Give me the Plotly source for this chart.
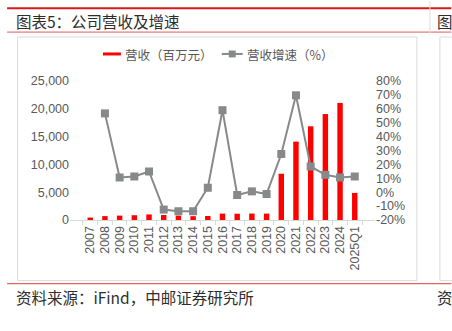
import plotly.graph_objects as go

# Revenue (million CNY) and YoY growth (%)
years = ["2007", "2008", "2009", "2010", "2011", "2012", "2013", "2014", "2015",
         "2016", "2017", "2018", "2019", "2020", "2021", "2022", "2023", "2024", "2025Q1"]
revenue = [440, 700, 790, 860, 1000, 900, 790, 690, 720,
           1150, 1130, 1160, 1150, 8320, 14100, 16850, 19050, 21060, 4870]
growth = [None, 56.7, 10.6, 11.3, 14.9, -12.5, -13.7, -13.7, 3.2,
          59.0, -2.0, 0.6, -1.3, 27.5, 69.7, 18.5, 12.5, 10.6, 11.3]

left_ticks = [0, 5000, 10000, 15000, 20000, 25000]
right_ticks = [-20, -10, 0, 10, 20, 30, 40, 50, 60, 70, 80]
right_labels = [f"{v}%" for v in right_ticks]

W, H = 452, 331
L, R, T, B = 70, 375.5, 80.7, 220.5

RED = "#FF0000"
GRAY = "#87898A"
TXT = "#595959"
NUM_FONT = "Liberation Sans, Arial, sans-serif"
CJK_FONT = "Noto Sans CJK SC, sans-serif"


def px(x):
    return (x - L) / (R - L)


def py(y):
    return (B - y) / (B - T)


fig = go.Figure()
fig.add_trace(go.Bar(
    x=years, y=revenue, name="营收（百万元）",
    marker=dict(color=RED, line=dict(width=0)),
    showlegend=False,
))
fig.add_trace(go.Scatter(
    x=years, y=growth, name="营收增速（%）", yaxis="y2",
    mode="lines+markers",
    line=dict(color=GRAY, width=2),
    marker=dict(symbol="square", size=8, color=GRAY),
    showlegend=False,
))

shapes = []
annotations = []

# page decoration: header rules, frames and footer rule
shapes.append(dict(type="line", xref="paper", yref="paper",
                   x0=px(7), x1=px(452), y0=py(7.5), y1=py(7.5),
                   line=dict(color="#D7191C", width=2)))
shapes.append(dict(type="line", xref="paper", yref="paper",
                   x0=px(7), x1=px(452), y0=py(31.5), y1=py(31.5),
                   line=dict(color="#E05A5A", width=1)))
shapes.append(dict(type="line", xref="paper", yref="paper",
                   x0=px(430.5), x1=px(430.5), y0=py(0), y1=py(33),
                   line=dict(color="#DDDDDD", width=1)))
shapes.append(dict(type="rect", xref="paper", yref="paper",
                   x0=px(17.5), x1=px(417.5), y0=py(36.5), y1=py(281.5),
                   line=dict(color="#DADADA", width=1)))
shapes.append(dict(type="rect", xref="paper", yref="paper",
                   x0=px(440.5), x1=px(460), y0=py(36.5), y1=py(281.5),
                   line=dict(color="#DADADA", width=1)))
shapes.append(dict(type="line", xref="paper", yref="paper",
                   x0=px(7), x1=px(452), y0=py(284.5), y1=py(284.5),
                   line=dict(color="#E06666", width=1.2)))

head_font = dict(family=CJK_FONT, size=15.5, color="#2E2E2E")
annotations.append(dict(text="图表5：公司营收及增速", xref="paper", yref="paper",
                        x=px(14), y=py(20), xanchor="left", yanchor="middle",
                        showarrow=False, font=head_font))
annotations.append(dict(text="图", xref="paper", yref="paper",
                        x=px(436), y=py(20), xanchor="left", yanchor="middle",
                        showarrow=False, font=head_font))
annotations.append(dict(text="资料来源：iFind，中邮证券研究所", xref="paper", yref="paper",
                        x=px(14), y=py(298), xanchor="left", yanchor="middle",
                        showarrow=False, font=head_font))
annotations.append(dict(text="资", xref="paper", yref="paper",
                        x=px(436), y=py(298), xanchor="left", yanchor="middle",
                        showarrow=False, font=head_font))

# legend
legend_font = dict(family=CJK_FONT, size=12.5, color=TXT)
shapes.append(dict(type="line", xref="paper", yref="paper",
                   x0=px(103), x1=px(121), y0=py(53.5), y1=py(53.5),
                   line=dict(color=RED, width=3)))
annotations.append(dict(text="营收（百万元）", xref="paper", yref="paper",
                        x=px(123), y=py(54), xanchor="left", yanchor="middle",
                        showarrow=False, font=legend_font))
shapes.append(dict(type="line", xref="paper", yref="paper",
                   x0=px(222), x1=px(243), y0=py(53.5), y1=py(53.5),
                   line=dict(color=GRAY, width=2)))
shapes.append(dict(type="rect", xref="paper", yref="paper",
                   x0=px(229), x1=px(236), y0=py(50), y1=py(57),
                   line=dict(width=0), fillcolor=GRAY))
annotations.append(dict(text="营收增速（%）", xref="paper", yref="paper",
                        x=px(245), y=py(54), xanchor="left", yanchor="middle",
                        showarrow=False, font=legend_font))

fig.update_layout(
    width=W, height=H,
    margin=dict(l=L, r=W - R, t=T, b=H - B, pad=0),
    paper_bgcolor="white", plot_bgcolor="white",
    bargap=0.63,
    font=dict(family=NUM_FONT, size=12.5, color=TXT),
    xaxis=dict(
        type="category", tickmode="array", tickvals=years, ticktext=years,
        showline=True, linecolor="#D9D9D9", linewidth=1,
        ticks="outside", tickson="boundaries", ticklen=4, tickcolor="#D9D9D9",
        tickangle=-90, showgrid=False, zeroline=False,
        tickfont=dict(family=NUM_FONT, size=12.5, color=TXT),
    ),
    yaxis=dict(
        range=[0, 25000], tickvals=left_ticks, tickformat=",",
        showgrid=False, zeroline=False, showline=False, ticks="",
        tickfont=dict(family=NUM_FONT, size=12.5, color=TXT),
    ),
    yaxis2=dict(
        overlaying="y", side="right", range=[-20, 80],
        tickmode="array", tickvals=right_ticks, ticktext=right_labels,
        showgrid=False, zeroline=False, showline=False, ticks="",
        tickfont=dict(family=NUM_FONT, size=12.5, color=TXT),
    ),
    shapes=shapes,
    annotations=annotations,
)

fig.write_html("out.html")
